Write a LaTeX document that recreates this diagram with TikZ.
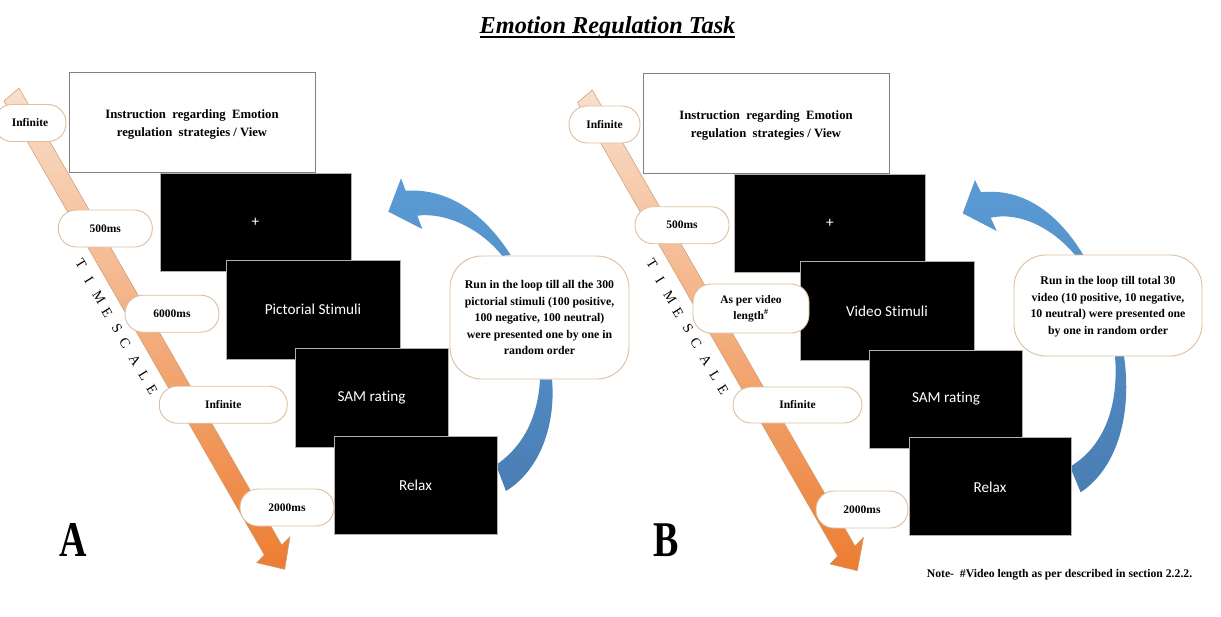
\documentclass[tikz,border=0pt]{standalone}
\usepackage{fontspec}
\setmainfont{Liberation Serif}
\newfontfamily\screenfont[Ligatures=NoCommon]{Carlito}
\definecolor{pilledge}{HTML}{DDBE9F}
\definecolor{boxedge}{HTML}{808080}
\definecolor{screenedge}{HTML}{B0B0B0}
\definecolor{timelight}{HTML}{F9DFCC}
\definecolor{timedark}{HTML}{ED7D31}
\definecolor{timeedge}{HTML}{C99A72}
\definecolor{loopup}{HTML}{5B9BD5}
\definecolor{loopmid}{HTML}{5089C2}
\definecolor{loopdown}{HTML}{4A7EB3}
\newcommand{\scrtext}[1]{\raisebox{-1.5pt}{#1}}
\tikzset{
  pill/.style={draw=pilledge,fill=white,line width=0.9pt,rounded corners=18,inner sep=0pt,align=center,minimum height=37,font=\fontsize{11.5}{16}\selectfont\bfseries},
  looppill/.style={pill,rounded corners=32,text depth=0pt,font=\fontsize{11.8}{16.5}\selectfont\bfseries},
  screen/.style={draw=screenedge,fill=black,text=white,line width=0.7pt,inner sep=0pt,font=\fontsize{15.2}{18}\selectfont\screenfont},
  infobox/.style={draw=boxedge,fill=white,line width=0.9pt,inner sep=0pt,minimum width=246,minimum height=100},
  infotext/.style={inner sep=0pt,align=center,font=\fontsize{12.7}{18}\selectfont\bfseries},
  timebar/.style={top color=timelight,bottom color=timedark,draw=timeedge,line width=0.5pt},
  timeletter/.style={rotate=-58,inner sep=0pt,font=\fontsize{14}{14}\selectfont},
  loopupper/.style={top color=loopup,bottom color=loopup!95!black},
  looplower/.style={top color=loopmid,bottom color=loopdown},
  panelmark/.style={inner sep=0pt,transform shape,xscale=0.76,font=\fontsize{50}{50}\selectfont\bfseries}
}
\begin{document}
\begin{tikzpicture}[x=1pt,y=-1pt]
\useasboundingbox (0,0) rectangle (1221,616);
\node[inner sep=0pt,anchor=base,font=\fontsize{24.3}{28}\selectfont\bfseries\itshape] (title) at (607.5,33.5) {Emotion Regulation Task};
\draw[line width=2pt] (480,37) -- (735,37);
% panel A
\begin{scope}
\shadedraw[timebar] (19,88) -- (281.7,545) -- (290,536.7) -- (284.7,569.3) -- (256.7,562.7) -- (264.3,555) -- (4,101) -- cycle;
\foreach \ch/\px/\py in {T/81/264,I/89/280,M/99/297,E/107/313,S/117/328,C/125/343,A/135/360,L/144/376,E/152/390} {\node[timeletter] at (\px,\py) {\ch};}
\shade[loopupper] (510.7,255) .. controls (485,215) and (450,188) .. (405.7,190.7) -- (401,178.3) -- (388.3,211.7) -- (422.3,229) -- (417.3,215.7) .. controls (445,212) and (480,228) .. (502.3,256) -- cycle;
\shade[looplower] (552,379.3) .. controls (556,425) and (540,470) .. (506,491) -- (496,465) .. controls (525,445) and (538,415) .. (540,379.3) -- cycle;
\node[infobox] (introA) at (192,122) {};
\node[infotext] (introtextA) at (192,124) {Instruction\ \ regarding\ \ Emotion\\regulation\ \ strategies / View};
\node[screen,minimum width=191,minimum height=98] (fixA) at (255.5,222) {\scrtext{+}};
\node[screen,minimum width=174,minimum height=99] (stimA) at (313,309.5) {\scrtext{Pictorial Stimuli}};
\node[screen,minimum width=153,minimum height=99] (samA) at (371.5,397.5) {\scrtext{SAM rating}};
\node[screen,minimum width=163,minimum height=98] (relaxA) at (415.5,485) {\scrtext{Relax}};
\node[pill,minimum width=72] (infA) at (30,123) {Infinite};
\node[pill,minimum width=94] (fixtimeA) at (105.3,228.5) {500ms};
\node[pill,minimum width=94] (stimtimeA) at (172,313.7) {6000ms};
\node[pill,minimum width=128] (samtimeA) at (223.3,404.7) {Infinite};
\node[pill,minimum width=94] (relaxtimeA) at (287,507.5) {2000ms};
\node[looppill,minimum width=179,minimum height=123] (loopA) at (539.5,317.5) {Run in the loop till all the 300\\pictorial stimuli (100 positive,\\100 negative, 100 neutral)\\were presented one by one in\\random order};
\node[panelmark] (markA) at (73.5,540) {A};
\end{scope}
% panel B
\begin{scope}[shift={(574,1.5)}]
\shadedraw[timebar] (18.3,88.5) -- (281,544.5) -- (289.5,536) -- (283.3,569.2) -- (256,562.5) -- (263.6,554.5) -- (3.5,101) -- cycle;
\foreach \ch/\px/\py in {T/81/264,I/89/280,M/99/297,E/107/313,S/117/328,C/125/343,A/135/360,L/144/376,E/152/390} {\node[timeletter] at (\px-3,\py-1.5) {\ch};}
\shade[loopupper] (509.3,253.5) .. controls (485,213) and (450,186) .. (407,190.8) -- (401,178.5) -- (388.7,211.8) -- (422.7,229.5) -- (416.7,216.2) .. controls (445,210) and (478,226) .. (501,253.5) -- cycle;
\shade[looplower] (550,354.5) .. controls (558,410) and (545,465) .. (506.7,490.8) -- (496,465.2) .. controls (530,445) and (545,405) .. (541,354.5) -- cycle;
\node[infobox] (introB) at (192,122) {};
\node[infotext] (introtextB) at (192,124) {Instruction\ \ regarding\ \ Emotion\\regulation\ \ strategies / View};
\node[screen,minimum width=191,minimum height=98] (fixB) at (255.8,221.5) {\scrtext{+}};
\node[screen,minimum width=174,minimum height=99] (stimB) at (313,309.8) {\scrtext{Video Stimuli}};
\node[screen,minimum width=153,minimum height=98] (samB) at (372,397.5) {\scrtext{SAM rating}};
\node[screen,minimum width=162,minimum height=98] (relaxB) at (416,485.3) {\scrtext{Relax}};
\node[pill,minimum width=71] (infB) at (30.5,123) {Infinite};
\node[pill,minimum width=94] (fixtimeB) at (108,223.7) {500ms};
\node[pill,minimum width=116,minimum height=49] (stimtimeB) at (177,307) {As per video\\length\textsuperscript{\#}};
\node[pill,minimum width=129,minimum height=36] (samtimeB) at (223.5,403.5) {Infinite};
\node[pill,minimum width=92] (relaxtimeB) at (288,508) {2000ms};
\node[looppill,minimum width=188,minimum height=101] (loopB) at (534,304) {Run in the loop till total 30\\video (10 positive, 10 negative,\\10 neutral) were presented one\\by one in random order};
\node[panelmark] (markB) at (91.7,538.5) {B};
\end{scope}
\node[inner sep=0pt,font=\fontsize{11.7}{14}\selectfont\bfseries] (note) at (1059.5,575) {Note-\ \ \#Video length as per described in section 2.2.2.};
\end{tikzpicture}
\end{document}
